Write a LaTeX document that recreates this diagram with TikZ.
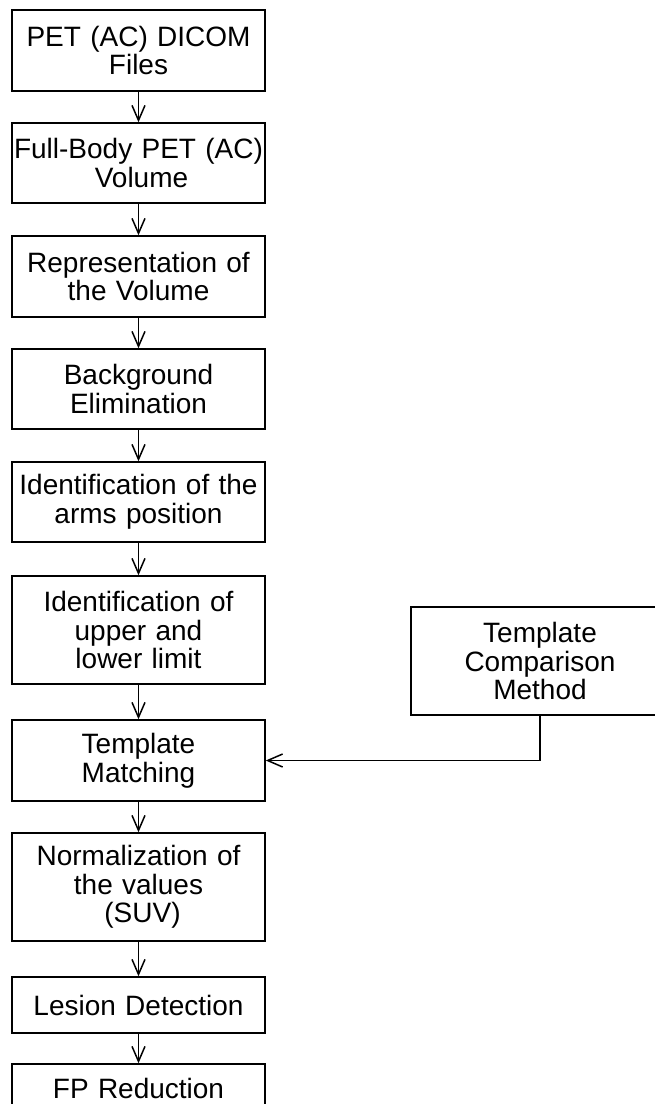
\documentclass[tikz,border=0pt]{standalone}
\usepackage{fontspec}
\setmainfont{Liberation Sans}
\usetikzlibrary{arrows.meta}
\begin{document}
\begin{tikzpicture}[x=1pt,y=-1pt,>={Straight Barb[length=15pt,width=13pt]},
  box/.style={draw,line width=1.5pt,inner xsep=1pt,inner ysep=0pt,text width=251pt,align=center,font=\fontsize{28}{28.5}\selectfont},
  link/.style={->,line width=1.5pt}]
\useasboundingbox (0,0) rectangle (654,1104);
\node[box,minimum height=81pt] (DCM) at (138.5,50.5) {PET (AC) DICOM\\Files};
\node[box,minimum height=80pt] (VOL) at (138.5,163) {Full-Body PET (AC)\\\hspace{6pt}Volume};
\node[box,minimum height=81pt] (REP) at (138.5,276.5) {Representation of\\the Volume};
\node[box,minimum height=80pt] (BGE) at (138.5,389) {Background\\Elimination};
\node[box,minimum height=80pt] (ARM) at (138.5,502) {Identification of the\\arms position};
\node[box,minimum height=108pt] (LIM) at (138.5,630) {Identification of\\upper and\\lower limit};
\node[box,minimum height=81pt] (TMA) at (138.5,760.5) {Template\\Matching};
\node[box,minimum height=108pt] (SUV) at (138.5,887) {Normalization of\\the values\hspace{8pt}\\\hspace{8pt}(SUV)};
\node[box,minimum height=56pt] (LES) at (138.5,1005) {Lesion Detection};
\node[box,minimum height=48pt] (FPR) at (138.5,1088) {FP Reduction};
\node[box,text width=256pt,minimum height=108pt] (TCM) at (540,661) {Template\\Comparison\\Method};
\draw[link] (DCM) -- (VOL);
\draw[link] (VOL) -- (REP);
\draw[link] (REP) -- (BGE);
\draw[link] (BGE) -- (ARM);
\draw[link] (ARM) -- (LIM);
\draw[link] (LIM) -- (TMA);
\draw[link] (TMA) -- (SUV);
\draw[link] (SUV) -- (LES);
\draw[link] (LES) -- (FPR);
\draw[link] (TCM.south) |- (TMA.east);
\end{tikzpicture}
\end{document}
